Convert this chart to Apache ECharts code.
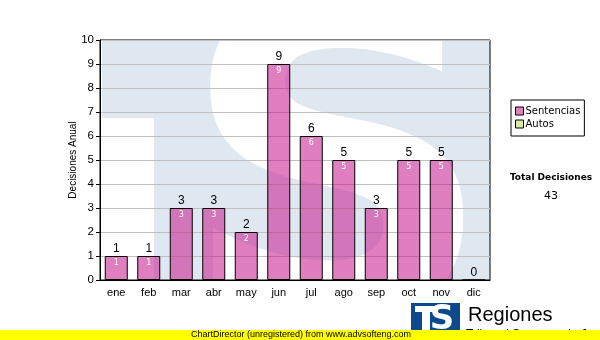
<!DOCTYPE html>
<html>
<head>
<meta charset="utf-8">
<script src="https://cdn.jsdelivr.net/npm/echarts@6/dist/echarts.min.js"></script>
<style>
  html, body { margin: 0; padding: 0; background: #fff; }
  #chart { width: 600px; height: 340px; }
</style>
</head>
<body>
<div id="chart"></div>
<script>
// datos del grafico
var meses = ["ene", "feb", "mar", "abr", "may", "jun", "jul", "ago", "sep", "oct", "nov", "dic"];
var sentencias = [1, 1, 3, 3, 2, 9, 6, 5, 3, 5, 5, 0];
var autos = [];
var totalDecisiones = 43;

var chart = echarts.init(document.querySelector("#chart"));

chart.setOption({
  animation: false,
  grid: {
    left: 100, right: 110, top: 40, bottom: 60,
    show: true, borderColor: "#000", borderWidth: 1, backgroundColor: "transparent"
  },
  legend: {
    orient: "vertical",
    left: 511, top: 100,
    padding: [6, 4, 7, 4],
    itemGap: 3,
    itemWidth: 8, itemHeight: 8,
    borderColor: "#000", borderWidth: 1,
    backgroundColor: "#fff",
    data: [
      { name: "Sentencias", icon: "rect", itemStyle: { color: "#df80c0", borderColor: "#000", borderWidth: 1 } },
      { name: "Autos", icon: "rect", itemStyle: { color: "#d6ec9e", borderColor: "#000", borderWidth: 1 } }
    ],
    textStyle: { fontFamily: "DejaVu Sans", fontSize: 10, color: "#000", padding: [0, 0, 0, -3] }
  },
  xAxis: {
    type: "category",
    data: meses,
    axisLine: { lineStyle: { color: "#000" } },
    axisTick: { alignWithLabel: true, length: 4, lineStyle: { color: "#000" } },
    axisLabel: { fontFamily: "Liberation Sans", fontSize: 11, color: "#000", margin: 7 }
  },
  yAxis: {
    type: "value",
    min: 0, max: 10, interval: 1,
    name: "Decisiones Anual",
    nameLocation: "middle",
    nameGap: 22,
    nameMoveOverlap: false,
    nameTextStyle: { fontFamily: "Liberation Sans", fontSize: 10, color: "#000" },
    axisLine: { show: true, lineStyle: { color: "#000" } },
    axisTick: { show: true, length: 4, lineStyle: { color: "#000" } },
    axisLabel: { fontFamily: "Liberation Sans", fontSize: 11.5, color: "#000", margin: 6 },
    splitLine: { lineStyle: { color: "#c0c0c0" } }
  },
  series: [
    {
      name: "Sentencias",
      type: "bar",
      data: sentencias,
      barWidth: 23,
      barGap: "-100%",
      z: 3,
      itemStyle: { color: "rgba(199,22,140,0.55)", borderColor: "#000", borderWidth: 1 },
      label: {
        show: true, position: "insideTop", distance: 3,
        fontFamily: "DejaVu Sans", fontSize: 8, color: "#fff",
        formatter: function (p) { return p.value ? p.value : ""; }
      }
    },
    {
      name: "Autos",
      type: "bar",
      data: autos,
      barWidth: 23,
      barGap: "-100%",
      itemStyle: { color: "#d6ec9e" }
    },
    {
      name: "etiquetas",
      type: "bar",
      data: sentencias,
      barWidth: 23,
      barGap: "-100%",
      z: 4,
      silent: true,
      itemStyle: { color: "transparent" },
      label: {
        show: true, position: "top", distance: 1,
        fontFamily: "Liberation Sans", fontSize: 12, color: "#000"
      }
    }
  ],
  graphic: [
    // marca de agua
    { type: "rect", z: -10, shape: { x: 102, y: 40, width: 388, height: 240 }, style: { fill: "#dfe8f1" } },
    { type: "rect", z: -9, shape: { x: 102, y: 118, width: 52, height: 162 }, style: { fill: "#fff" } },
    { type: "text", z: -9, style: { text: "S", x: 337, y: 200, fill: "#fff", font: "bold 440px DejaVu Sans", textAlign: "center", textVerticalAlign: "middle" } },
    // totales
    { type: "text", style: { text: "Total Decisiones", x: 551, y: 178, fill: "#000", font: "bold 9px DejaVu Sans", textAlign: "center", textVerticalAlign: "middle" } },
    { type: "text", style: { text: String(totalDecisiones), x: 551, y: 196, fill: "#000", font: "11px DejaVu Sans", textAlign: "center", textVerticalAlign: "middle" } },
    // logo
    { type: "rect", shape: { x: 411, y: 303, width: 49, height: 30 }, style: { fill: "#0d4a8c" } },
    { type: "rect", shape: { x: 415, y: 306, width: 22, height: 6 }, style: { fill: "#fff" } },
    { type: "rect", shape: { x: 422, y: 306, width: 8, height: 26 }, style: { fill: "#fff" } },
    { type: "text", style: { text: "S", x: 442, y: 320, fill: "#fff", font: "bold 34px DejaVu Sans", textAlign: "center", textVerticalAlign: "middle" } },
    { type: "text", style: { text: "Regiones", x: 468, y: 315, fill: "#000", font: "20px Liberation Sans", textVerticalAlign: "middle" } },
    { type: "text", style: { text: "Tribunal Supremo de Justicia", x: 466, y: 335, fill: "#000", font: "12px Liberation Sans", textVerticalAlign: "middle" } },
    // banda amarilla
    { type: "rect", z: 50, shape: { x: 0, y: 330, width: 600, height: 10 }, style: { fill: "#ffff00" } },
    { type: "text", z: 51, style: { text: "ChartDirector (unregistered) from www.advsofteng.com", x: 191, y: 335, fill: "#000", font: "9px Liberation Sans", textVerticalAlign: "middle" } }
  ]
});
</script>
</body>
</html>
